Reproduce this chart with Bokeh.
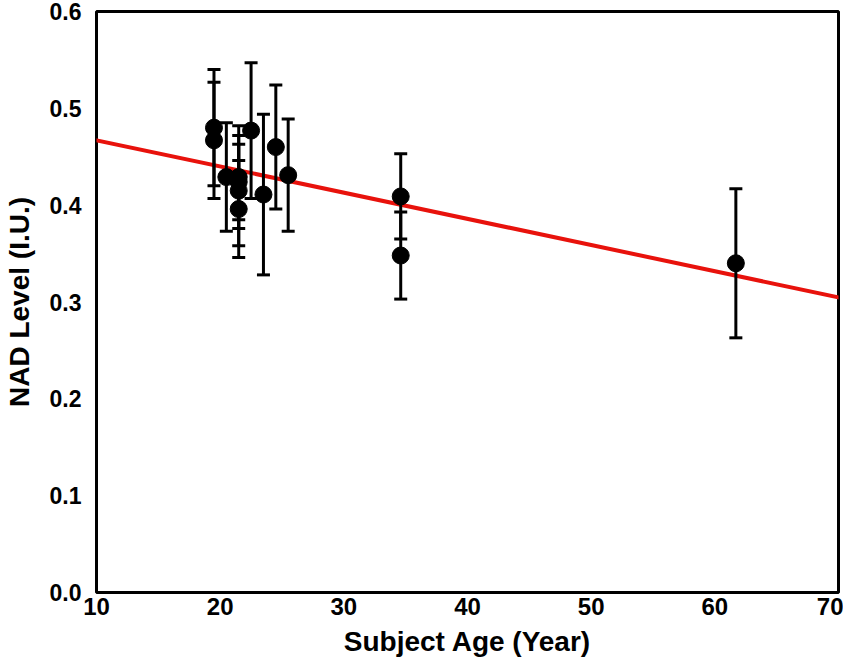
from bokeh.plotting import figure
from bokeh.models import ColumnDataSource, Whisker, TeeHead, Slope, FixedTicker, PrintfTickFormatter, Range1d
from bokeh.embed import file_html
from bokeh.resources import INLINE

# Data
ages = [19.5, 19.5, 20.5, 21.5, 21.5, 21.5, 21.5, 22.5, 23.5, 24.5, 25.5, 34.6, 34.6, 61.7]
nad = [0.480, 0.467, 0.429, 0.429, 0.424, 0.415, 0.396, 0.477, 0.411, 0.460, 0.431, 0.409, 0.348, 0.340]
err = [0.060, 0.060, 0.056, 0.053, 0.039, 0.057, 0.050, 0.070, 0.083, 0.064, 0.058, 0.044, 0.045, 0.077]
trend_slope = -0.002703
trend_intercept = 0.4940
x_ticks = [10, 20, 30, 40, 50, 60, 70]
y_ticks = [0.0, 0.1, 0.2, 0.3, 0.4, 0.5, 0.6]

src = ColumnDataSource(dict(
    x=ages, y=nad,
    lo=[v - e for v, e in zip(nad, err)],
    hi=[v + e for v, e in zip(nad, err)],
))

p = figure(width=843, height=660, output_backend="svg", toolbar_location=None,
           x_range=Range1d(10, 70), y_range=Range1d(0, 0.6),
           min_border_left=96, min_border_right=5, min_border_top=11, min_border_bottom=68)

p.xgrid.visible = False
p.ygrid.visible = False
p.outline_line_color = "black"
p.outline_line_width = 3
p.background_fill_color = "white"
p.border_fill_color = "white"

trend = Slope(gradient=trend_slope, y_intercept=trend_intercept,
              line_color="#e8120c", line_width=4, level="underlay")
p.add_layout(trend)

wh = Whisker(source=src, base="x", lower="lo", upper="hi",
             line_color="black", line_width=3,
             upper_head=TeeHead(size=13, line_color="black", line_width=3),
             lower_head=TeeHead(size=13, line_color="black", line_width=3))
p.add_layout(wh)

p.scatter("x", "y", source=src, size=17, fill_color="black", line_color="black")

for ax in (p.xaxis[0], p.yaxis[0]):
    ax.axis_line_color = None
    ax.major_tick_line_color = None
    ax.minor_tick_line_color = None
    ax.major_tick_out = 0
    ax.major_tick_in = 0
    ax.minor_tick_out = 0
    ax.major_label_text_font_style = "bold"
    ax.axis_label_text_font_style = "bold"
    ax.axis_label_text_color = "black"
    ax.major_label_text_color = "black"

p.xaxis.ticker = FixedTicker(ticks=x_ticks)
p.yaxis.ticker = FixedTicker(ticks=y_ticks)
p.yaxis.formatter = PrintfTickFormatter(format="%.1f")

p.xaxis.axis_label = "Subject Age (Year)"
p.yaxis.axis_label = "NAD Level (I.U.)"

p.xaxis.major_label_text_font = "'Liberation Sans Narrow', 'Liberation Sans', Arial, sans-serif"
p.xaxis.major_label_text_font_size = "24px"
p.xaxis.major_label_standoff = 5
p.yaxis.major_label_text_font = "'Liberation Sans', Arial, sans-serif"
p.yaxis.major_label_text_font_size = "23px"
p.yaxis.major_label_standoff = 15

p.xaxis.axis_label_text_font = "'Liberation Sans', Arial, sans-serif"
p.xaxis.axis_label_text_font_size = "28px"
p.xaxis.axis_label_standoff = 8
p.yaxis.axis_label_text_font = "'Liberation Sans', Arial, sans-serif"
p.yaxis.axis_label_text_font_size = "28px"
p.yaxis.axis_label_standoff = 12

open("out.html", "w").write(file_html(p, INLINE))
